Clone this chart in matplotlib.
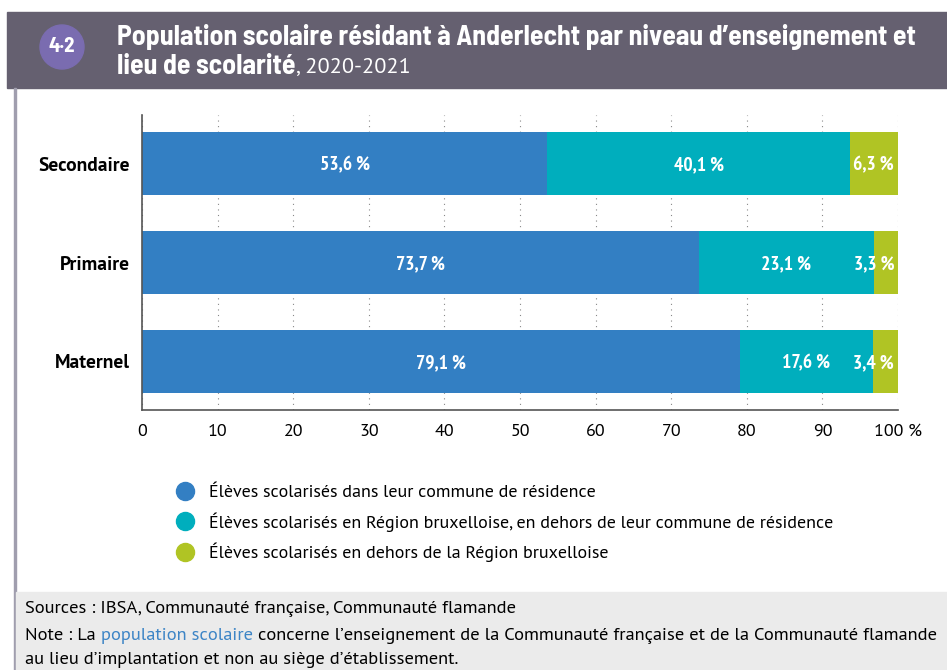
import matplotlib.pyplot as plt
from matplotlib.lines import Line2D
from matplotlib.patches import Rectangle, Circle

# --- data ---
levels = ["Secondaire", "Primaire", "Maternel"]
commune = [53.6, 73.7, 79.1]
region = [40.1, 23.1, 17.6]
hors_region = [6.3, 3.3, 3.4]
series_labels = [
    "Élèves scolarisés dans leur commune de résidence",
    "Élèves scolarisés en Région bruxelloise, en dehors de leur commune de résidence",
    "Élèves scolarisés en dehors de la Région bruxelloise",
]
xticks = [0, 10, 20, 30, 40, 50, 60, 70, 80, 90, 100]
xtick_labels = ["0", "10", "20", "30", "40", "50", "60", "70", "80", "90", "100 %"]

colors = ["#337fc3", "#00aebd", "#b0c424"]
body = ["PT Sans", "DejaVu Sans"]
narrow = ["PT Sans Narrow", "DejaVu Sans"]
title_font = ["Barlow Semi Condensed", "DejaVu Sans"]
W, H = 947, 670

fig = plt.figure(figsize=(W / 100, H / 100), dpi=100)

# header band + badge
fig.patches.append(Rectangle((7 / W, 1 - 88 / H), 1, 76 / H, transform=fig.transFigure,
                             color="#656070", zorder=0))
fig.patches.append(Rectangle((14 / W, 0), 2 / W, 1 - 88 / H, transform=fig.transFigure,
                             color="#a09eae", zorder=0))
fig.patches.append(Rectangle((16 / W, 0), 1, 78 / H, transform=fig.transFigure,
                             color="#ebebeb", zorder=0))
badge = Circle((62, H - 47), 22, transform=None, color="#7a6cb0", zorder=1)
fig.patches.append(badge)
fig.text(62 / W, 1 - 47 / H, "4·2", color="white", fontsize=15, fontweight="bold",
         ha="center", va="center", family=title_font)
fig.text(117 / W, 1 - 37 / H,
         "Population scolaire résidant à Anderlecht par niveau d’enseignement et",
         color="white", fontsize=20, fontweight="bold", va="center", family=title_font)
t1 = fig.text(117 / W, 1 - 67 / H, "lieu de scolarité", color="white", fontsize=20,
              fontweight="bold", va="center", family=title_font)

# --- chart ---
ax = fig.add_axes([142 / W, 1 - 410 / H, (898 - 142) / W, (410 - 115) / H])
y = list(range(len(levels)))[::-1]
left3 = [a + b for a, b in zip(commune, region)]
ax.barh(y, commune, height=0.64, color=colors[0], zorder=2)
ax.barh(y, region, left=commune, height=0.64, color=colors[1], zorder=2)
ax.barh(y, hors_region, left=left3, height=0.64, color=colors[2], zorder=2)

for yi, a, b, c in zip(y, commune, region, hors_region):
    kw = dict(color="white", fontsize=14, fontweight="bold", va="center_baseline",
              family=narrow, zorder=3)
    ax.text(a / 2, yi, f"{a:.1f} %".replace(".", ","), ha="center", **kw)
    ax.text(a + b / 2, yi, f"{b:.1f} %".replace(".", ","), ha="center", **kw)
    ax.text(99.5, yi, f"{c:.1f} %".replace(".", ","), ha="right", **kw)

ax.set_xlim(0, 100)
ax.set_ylim(-0.49, 2.49)
ax.set_xticks(xticks)
ax.set_xticklabels(xtick_labels, fontsize=13, family=body)
ax.set_yticks(y)
ax.set_yticklabels(levels, fontsize=14, fontweight="bold", family=body)
ax.tick_params(length=0, pad=10)
ax.tick_params(axis="y", pad=8.5)
ax.grid(axis="x", linestyle=(0, (1, 4)), color="#888888", linewidth=0.8, zorder=0)
for s in ["top", "right"]:
    ax.spines[s].set_visible(False)
for s in ["left", "bottom"]:
    ax.spines[s].set_color("#555555")
    ax.spines[s].set_linewidth(1.2)

# legend
handles = [Line2D([], [], marker="o", linestyle="", markersize=13, color=c) for c in colors]
fig.legend(handles, series_labels, loc="upper left", bbox_to_anchor=(151 / W, 1 - 468 / H),
           frameon=False, labelspacing=0.62, handletextpad=0.3,
           prop={"family": body, "size": 13})

# footer
fs = 13.3
fig.text(25 / W, 1 - 609 / H, "Sources : IBSA, Communauté française, Communauté flamande",
         fontsize=fs, va="center", family=body)
fig.canvas.draw()
r = fig.canvas.get_renderer()
bb = t1.get_window_extent(r)
fig.text(bb.x1 / W, 1 - 67 / H, ", 2020-2021", color="white", fontsize=16, va="center",
         family=body)
x = 25
parts = [("Note : La ", "black"), ("population scolaire", "#3d85c6"),
         (" concerne l’enseignement de la Communauté française et de la Communauté flamande",
          "black")]
for txt, col in parts:
    t = fig.text(x / W, 1 - 636 / H, txt, color=col, fontsize=fs, va="center", family=body)
    x = t.get_window_extent(r).x1
fig.text(25 / W, 1 - 660 / H, "au lieu d’implantation et non au siège d’établissement.",
         fontsize=fs, va="center", family=body)

fig.savefig("out.png", dpi=100)
